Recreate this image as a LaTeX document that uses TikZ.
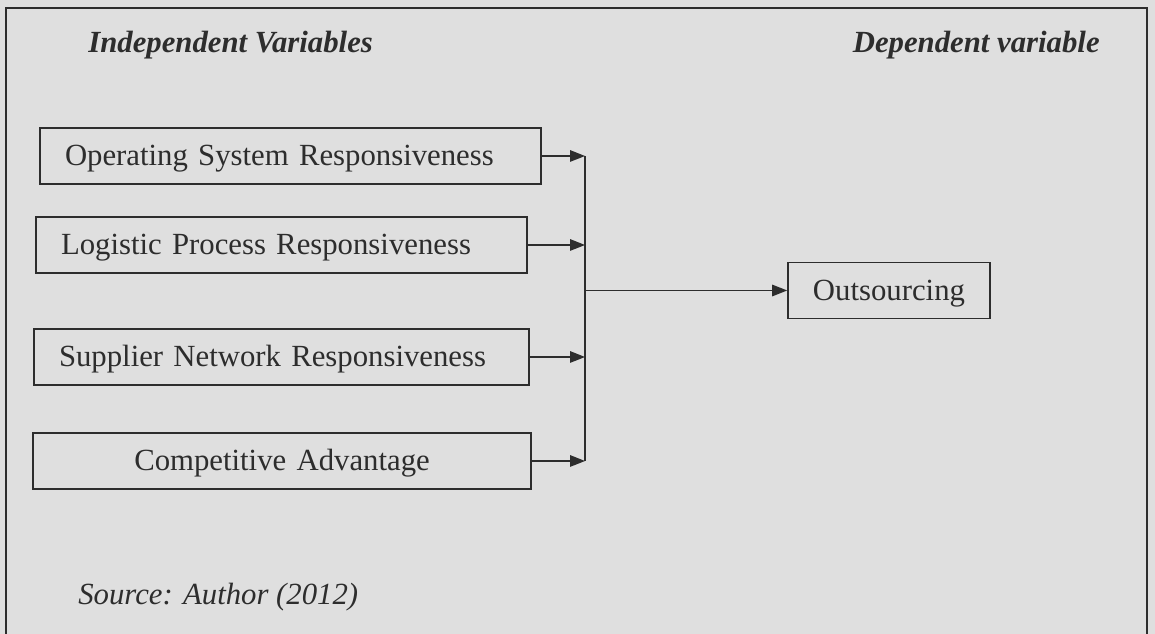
\documentclass[tikz,border=0pt]{standalone}
\usepackage{fontspec}
\setmainfont{Liberation Serif}
\usetikzlibrary{arrows.meta}
\definecolor{scan}{RGB}{223,223,223}
\definecolor{ink}{RGB}{45,45,45}
\tikzset{
>={Triangle[length=0.3cm,width=0.23cm]},
  varbox/.style={
    rectangle,
    draw=ink, line width=0.9pt,
    text=ink,
    minimum height=1.12cm,
    text height=12pt, text depth=1pt,
    inner xsep=0.5cm,
    align=left,
    font=\fontsize{17.5}{21}\selectfont},
  line/.style={draw=ink, line width=0.8pt},
  heading/.style={
    text=ink, inner sep=0pt,
    font=\fontsize{17.5}{21}\selectfont\bfseries\itshape},
  note/.style={
    text=ink, inner sep=0pt,
    font=\fontsize{17.5}{21}\selectfont\itshape},
}

\begin{document}
\begin{tikzpicture}
    \fill[scan] (0,0) rectangle (23.1,12.68);
    \useasboundingbox (0,0) rectangle (23.1,12.68);
    % frame
    \draw[ink, line width=0.9pt] (0.12,-0.3) rectangle (22.94,12.52);
    \draw[ink, line width=1.4pt] (0.12,12.52) -- (22.94,12.52);

    \node[heading, anchor=base west] (indep) at (1.76,11.62) {Independent Variables};
    \node[heading, anchor=base east] (dep) at (22.0,11.62) {Dependent variable};

    \node[varbox, text width=9.02cm] (osr) at (5.81,9.56) {Operating System Responsiveness};
    \node[varbox, text width=8.82cm] (lpr) at (5.63,7.78) {Logistic Process Responsiveness};
    \node[varbox, text width=8.9cm] (snr) at (5.63,5.54) {Supplier Network Responsiveness};
    \node[varbox, text width=8.96cm, align=center] (ca) at (5.64,3.46) {Competitive Advantage};
    \node[varbox, minimum width=3.98cm, align=center] (out) at (17.78,6.87) {Outsourcing};

    \node[note, anchor=base west] (src) at (1.56,0.58) {Source: Author (2012)};

    \coordinate (bus) at (11.7,6.87);
    \draw[line, ->] (osr.east) -- (osr.east -| bus);
    \draw[line, ->] (lpr.east) -- (lpr.east -| bus);
    \draw[line, ->] (snr.east) -- (snr.east -| bus);
    \draw[line, ->] (ca.east) -- (ca.east -| bus);
    \draw[line] (osr.east -| bus) -- (ca.east -| bus);
    \draw[line, ->] (bus) -- (out.west);
\end{tikzpicture}
\end{document}
